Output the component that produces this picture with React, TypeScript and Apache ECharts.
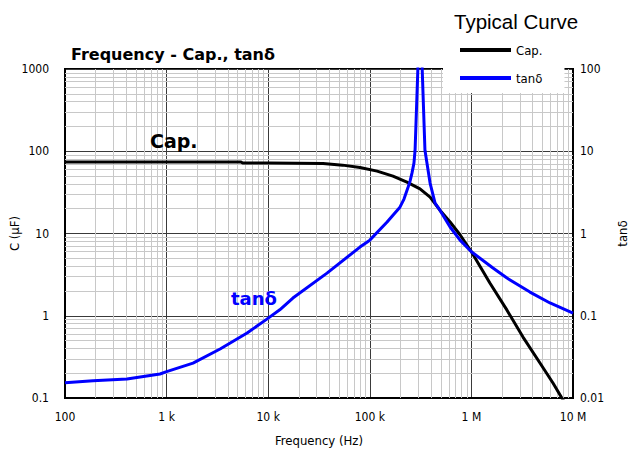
import React, { useEffect, useRef } from "react";
import * as echarts from "echarts";

const capFreq = [100, 1000, 5400, 5600, 10000, 34700, 54000, 80000, 118000, 169000, 232000, 312000, 392000, 490000, 617000, 776000, 1000000, 1520000, 2240000, 3220000, 4730000, 6350000, 7770000, 9000000];
const capVal = [74, 74, 74, 72, 72, 71, 67.8, 63.5, 57.3, 49.8, 42.1, 34.8, 27.7, 19.2, 13.8, 9.6, 6.0, 2.5, 1.17, 0.55, 0.266, 0.152, 0.1, 0.075];

const tanFreq = [100, 189, 407, 861, 1000, 1820, 3360, 6200, 9700, 13000, 17500, 37900, 80000, 100000, 148000, 169000, 198000, 217000, 238000, 249000, 260000, 272000, 279000, 298000, 312000, 327000, 349000, 392000, 439000, 490000, 617000, 773000, 1000000, 1630000, 2240000, 3770000, 5940000, 10000000];
const tanVal = [0.0153, 0.0162, 0.017, 0.0196, 0.0209, 0.0266, 0.0394, 0.0616, 0.091, 0.118, 0.164, 0.33, 0.684, 0.83, 1.38, 1.67, 2.09, 2.62, 3.66, 4.33, 5.42, 7.17, 10.3, 110, 200, 110, 10.3, 4.1, 2.34, 1.92, 1.2, 0.83, 0.6, 0.38, 0.287, 0.194, 0.143, 0.108];

const xTickLabels: Record<string, string> = {
  "100": "100",
  "1000": "1 k",
  "10000": "10 k",
  "100000": "100 k",
  "1000000": "1 M",
  "10000000": "10 M",
};

const xDecades = [100, 1000, 10000, 100000, 1000000];
const yDecades = [0.1, 1, 10, 100];
const minorSteps = [2, 3, 4, 5, 6, 7, 8, 9];

const FONT = "'DejaVu Sans Condensed', 'DejaVu Sans', sans-serif";
const BOLD_FONT = "'DejaVu Sans', sans-serif";

function fmt(v: number) {
  return String(+Number(v).toPrecision(3));
}

export default function App() {
  const ref = useRef<HTMLDivElement>(null);
  useEffect(() => {
    if (!ref.current) return;
    const chart = echarts.init(ref.current, null, { renderer: "svg" });
    const minorX = xDecades.flatMap((d) => minorSteps.map((m) => ({ xAxis: d * m })));
    const minorY = yDecades.flatMap((d) => minorSteps.map((m) => ({ yAxis: +(d * m).toPrecision(3) })));
    const axisLabelStyle = { color: "#000", fontFamily: FONT, fontSize: 12 };
    chart.setOption({
      animation: false,
      backgroundColor: "#fff",
      title: [
        {
          text: "Frequency - Cap., tanδ",
          left: 66,
          top: 41,
          textStyle: { fontFamily: BOLD_FONT, fontWeight: "bold", fontSize: 16, color: "#000" },
        },
        {
          text: "Typical Curve",
          left: 449,
          top: 6,
          textStyle: { fontFamily: "Liberation Sans", fontWeight: "normal", fontSize: 20.5, color: "#000" },
        },
        {
          text: "Cap.",
          left: 145,
          top: 126,
          textStyle: { fontFamily: BOLD_FONT, fontWeight: "bold", fontSize: 19, color: "#000" },
        },
        {
          text: "tanδ",
          left: 226,
          top: 284,
          textStyle: { fontFamily: BOLD_FONT, fontWeight: "bold", fontSize: 18, color: "#0000ff" },
        },
      ],
      legend: {
        orient: "vertical",
        left: 443,
        top: 39,
        padding: [4, 22, 8, 17],
        backgroundColor: "#fff",
        icon: "rect",
        itemWidth: 51,
        itemHeight: 4,
        itemGap: 14,
        textStyle: { fontFamily: FONT, fontSize: 13, color: "#000", lineHeight: 14 },
        data: ["Cap.", "tanδ"],
      },
      grid: {
        left: 65,
        right: 70,
        top: 69,
        bottom: 54,
        show: true,
        borderColor: "#000",
        borderWidth: 2,
        backgroundColor: "#fff",
        outerBoundsMode: "none",
        containLabel: false,
      },
      xAxis: {
        type: "log",
        logBase: 10,
        min: 100,
        max: 10000000,
        name: "Frequency (Hz)",
        nameLocation: "middle",
        nameGap: 36,
        nameMoveOverlap: false,
        nameTextStyle: { fontFamily: FONT, fontSize: 13, color: "#000" },
        axisLine: { show: true, lineStyle: { color: "#000", width: 2 } },
        axisTick: { show: false },
        axisLabel: {
          ...axisLabelStyle,
          margin: 13,
          formatter: (v: number) => xTickLabels[String(Math.round(v))] ?? fmt(v),
        },
        splitLine: { show: true, lineStyle: { color: "#3a3a3a", width: 1 } },
      },
      yAxis: [
        {
          type: "log",
          logBase: 10,
          min: 0.1,
          max: 1000,
          position: "left",
          name: "C (μF)",
          nameLocation: "middle",
          nameGap: 44,
          nameRotate: 90,
          nameMoveOverlap: false,
          nameTextStyle: { fontFamily: FONT, fontSize: 13, color: "#000" },
          axisLine: { show: true, lineStyle: { color: "#000", width: 2 } },
          axisTick: { show: false },
          axisLabel: { ...axisLabelStyle, margin: 16, formatter: (v: number) => fmt(v) },
          splitLine: { show: true, lineStyle: { color: "#3a3a3a", width: 1 } },
        },
        {
          type: "log",
          logBase: 10,
          min: 0.01,
          max: 100,
          position: "right",
          name: "tanδ",
          nameLocation: "middle",
          nameGap: 43,
          nameRotate: 90,
          nameMoveOverlap: false,
          nameTextStyle: { fontFamily: FONT, fontSize: 13, color: "#000" },
          axisLine: { show: true, lineStyle: { color: "#000", width: 2 } },
          axisTick: { show: false },
          axisLabel: { ...axisLabelStyle, margin: 7, formatter: (v: number) => fmt(v) },
          splitLine: { show: false },
        },
      ],
      series: [
        {
          name: "Cap.",
          type: "line",
          yAxisIndex: 0,
          symbol: "none",
          clip: true,
          lineStyle: { color: "#000", width: 3 },
          itemStyle: { color: "#000" },
          data: capFreq.map((f, i) => [f, capVal[i]]),
          z: 3,
          markLine: {
            silent: true,
            symbol: "none",
            z: 1,
            label: { show: false },
            lineStyle: { color: "#c8c8c8", width: 1, type: "solid" },
            emphasis: { disabled: true },
            data: [...minorX, ...minorY],
          },
        },
        {
          name: "tanδ",
          type: "line",
          yAxisIndex: 1,
          symbol: "none",
          clip: true,
          lineStyle: { color: "#0000ff", width: 3 },
          itemStyle: { color: "#0000ff" },
          data: tanFreq.map((f, i) => [f, tanVal[i]]),
          z: 4,
        },
      ],
    });
    return () => chart.dispose();
  }, []);
  return (
    <div
      ref={ref}
      style={{ position: "fixed", left: 0, top: 0, width: 643, height: 452 }}
    />
  );
}
